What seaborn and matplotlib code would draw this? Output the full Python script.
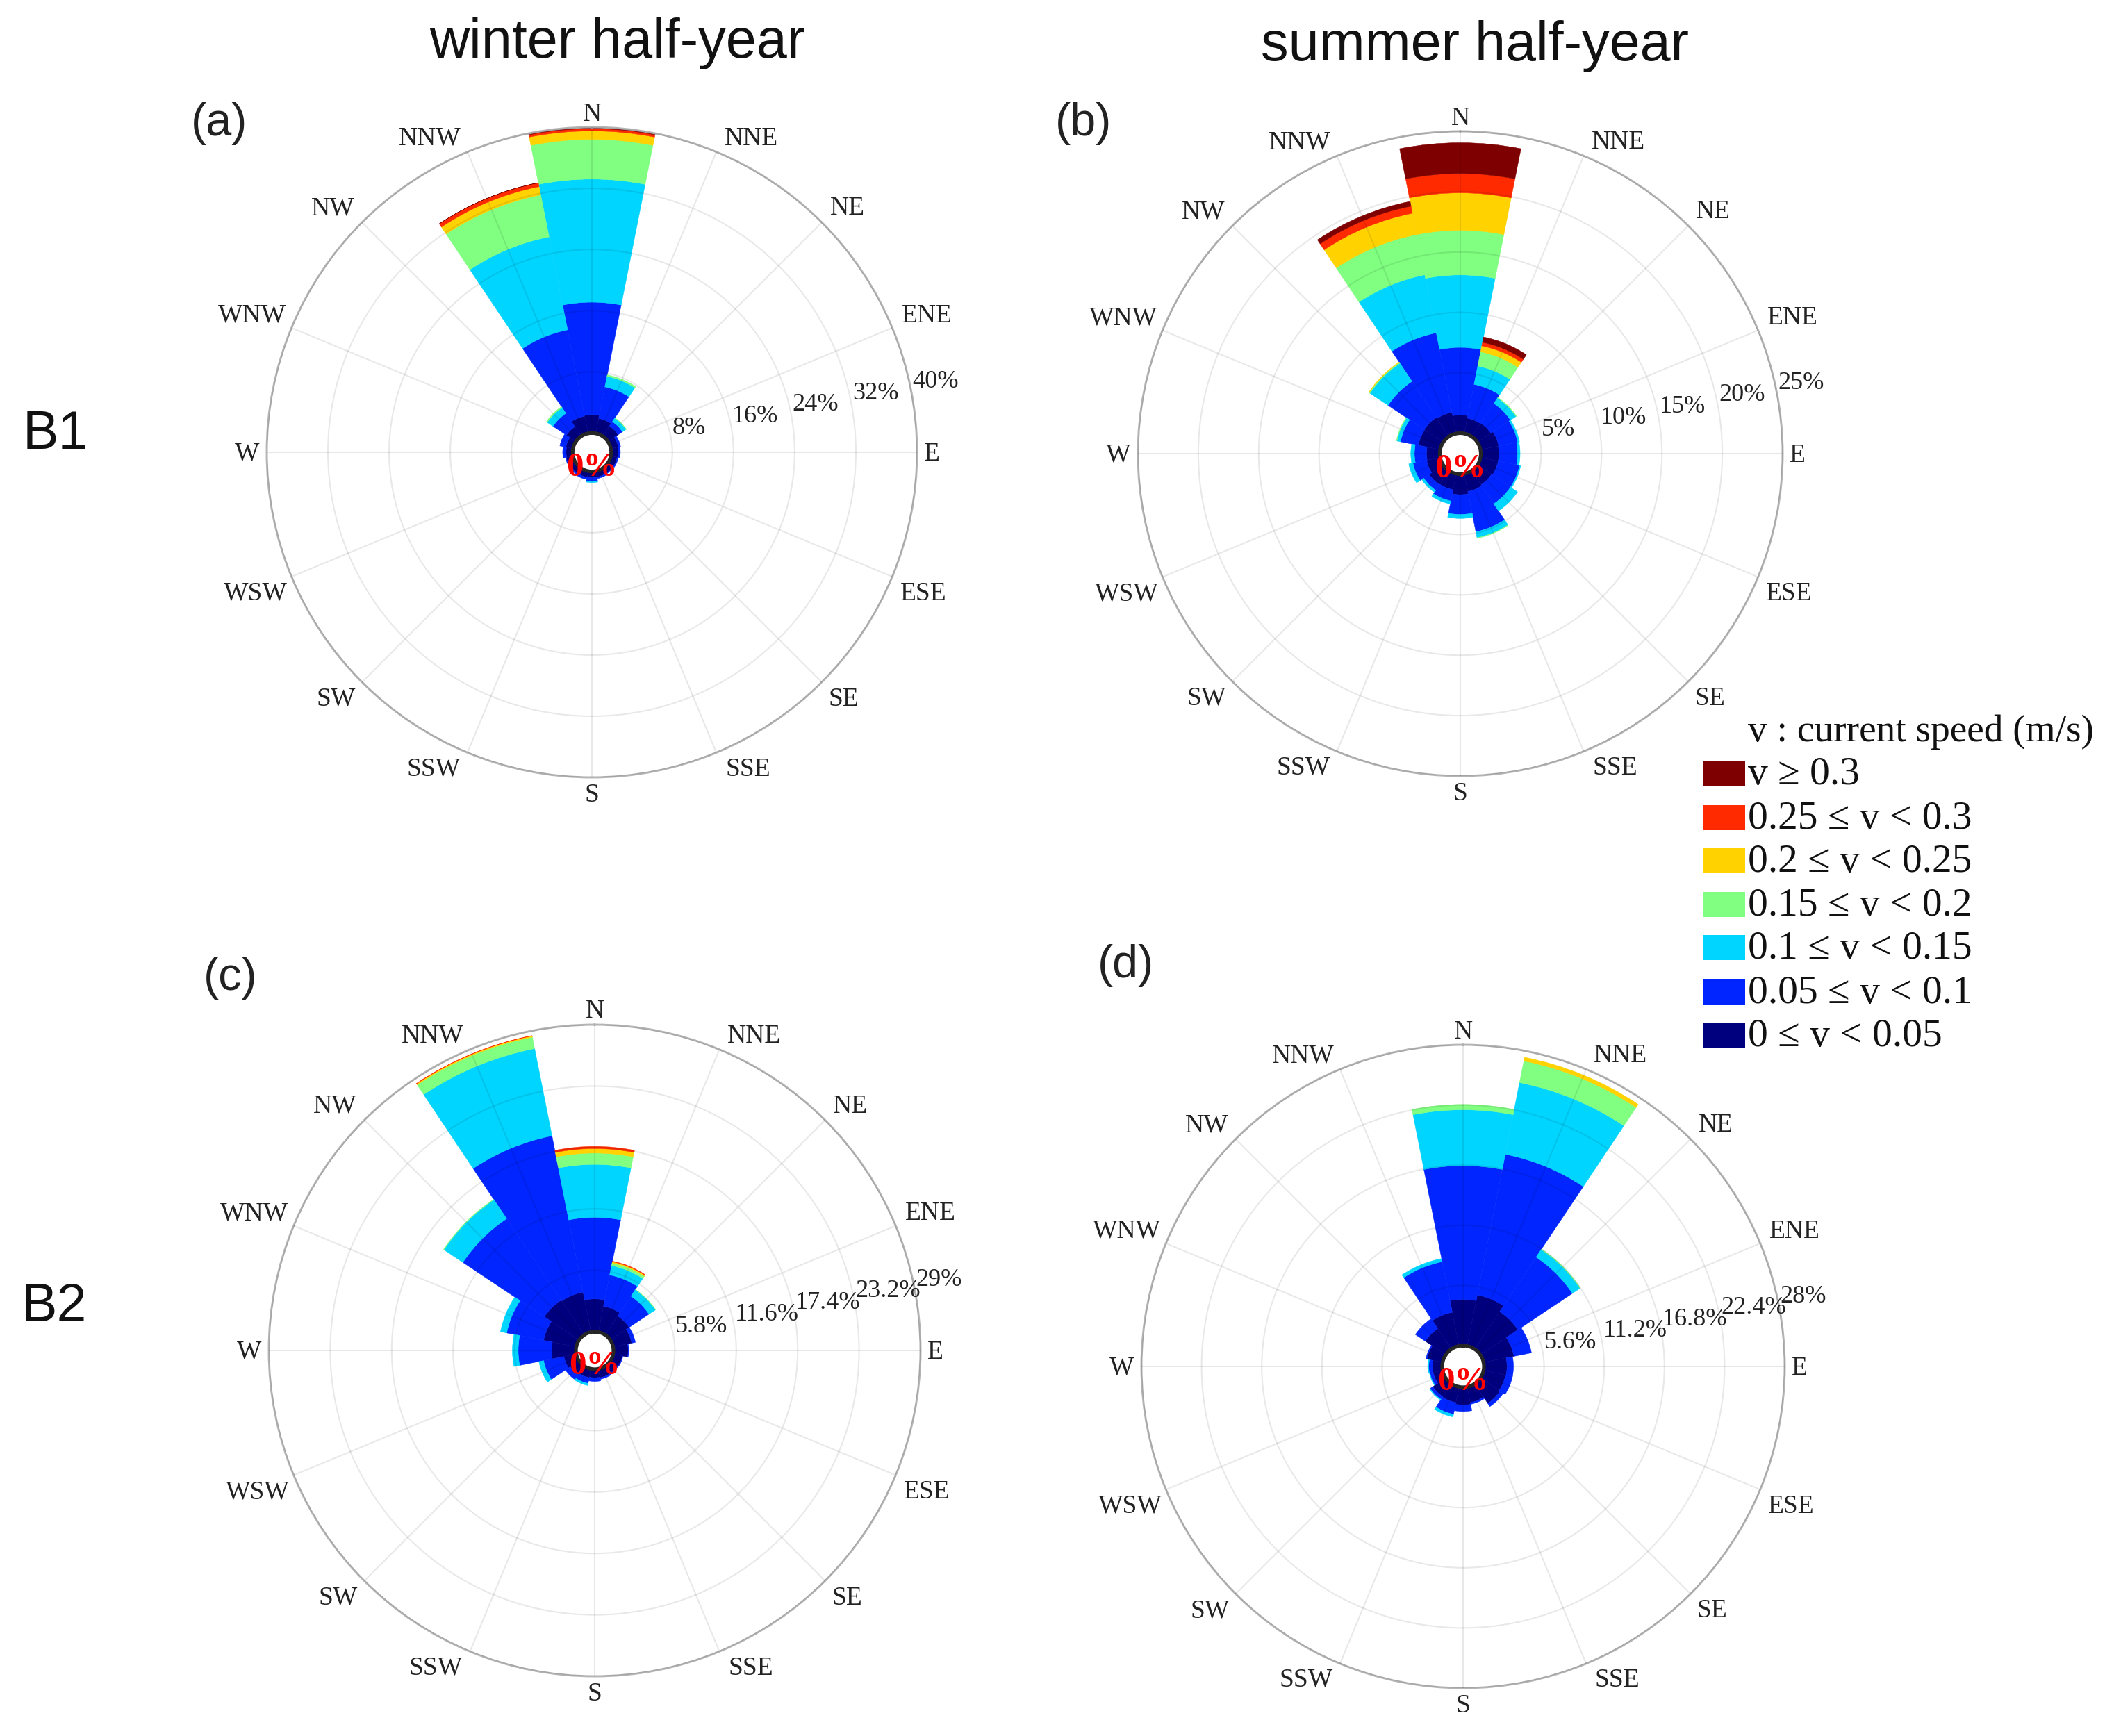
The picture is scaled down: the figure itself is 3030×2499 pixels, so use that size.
import numpy as np
import matplotlib
matplotlib.use("Agg")
import matplotlib.pyplot as plt
from matplotlib.patches import Rectangle
import seaborn as sns

W, H = 3030, 2499

directions = ["N", "NNE", "NE", "ENE", "E", "ESE", "SE", "SSE",
              "S", "SSW", "SW", "WSW", "W", "WNW", "NW", "NNW"]
speed_labels = ["0 \u2264 v < 0.05", "0.05 \u2264 v < 0.1", "0.1 \u2264 v < 0.15", "0.15 \u2264 v < 0.2",
                "0.2 \u2264 v < 0.25", "0.25 \u2264 v < 0.3", "v \u2265 0.3"]
speed_colors = ["#00007f", "#0025ff", "#00d5ff", "#80ff80", "#ffd200", "#ff2a00", "#7f0000"]

# percent per speed class (slow to fast), one row per direction
winter_b1 = [
    [2.4, 14.7, 16.1, 5.2, 1.1, 0.3, 0.2],
    [2.0, 4.2, 1.4, 0.2, 0, 0, 0],
    [1.6, 0.7, 0.55, 0.05, 0, 0, 0],
    [1.0, 0.3, 0, 0, 0, 0, 0],
    [0.9, 0.3, 0, 0, 0, 0, 0],
    [0.85, 0.15, 0, 0, 0, 0, 0],
    [0.8, 0.1, 0, 0, 0, 0, 0],
    [0.8, 0.2, 0, 0, 0, 0, 0],
    [0.8, 0.5, 0.15, 0, 0, 0, 0],
    [0.8, 0.3, 0, 0, 0, 0, 0],
    [0.8, 0.2, 0, 0, 0, 0, 0],
    [0.9, 0.1, 0, 0, 0, 0, 0],
    [0.85, 0.45, 0, 0, 0, 0, 0],
    [0.95, 0.8, 0, 0, 0, 0, 0],
    [1.5, 2.1, 0.9, 0.15, 0, 0, 0],
    [2.3, 11.5, 12.4, 5.6, 1.1, 0.5, 0.02],
]
summer_b1 = [
    [1.5, 5.6, 6.0, 3.7, 3.1, 1.6, 2.55],
    [1.3, 2.85, 1.55, 1.2, 0.5, 0.3, 0.45],
    [1.35, 1.95, 0.55, 0.05, 0, 0, 0],
    [1.55, 1.6, 0.15, 0, 0, 0, 0],
    [1.5, 1.55, 0.2, 0, 0, 0, 0],
    [1.5, 1.8, 0.1, 0, 0, 0, 0],
    [1.4, 1.9, 0.7, 0, 0, 0, 0],
    [1.5, 3.4, 0.5, 0.05, 0, 0, 0],
    [1.7, 1.64, 0.33, 0, 0, 0, 0],
    [1.35, 0.95, 0.25, 0, 0, 0, 0],
    [1.4, 0.55, 0.2, 0, 0, 0, 0],
    [1.15, 1.15, 0.35, 0, 0, 0, 0],
    [1.1, 1.0, 0.3, 0, 0, 0, 0],
    [1.85, 1.5, 0.3, 0.05, 0, 0, 0],
    [1.9, 3.6, 1.8, 0.08, 0.04, 0, 0],
    [1.8, 6.7, 4.9, 3.4, 1.8, 0.6, 0.4],
]
winter_b2 = [
    [3.1, 7.7, 5.0, 1.07, 0.43, 0.2, 0],
    [2.5, 3.0, 0.9, 0.25, 0.12, 0.06, 0],
    [2.15, 2.25, 0.73, 0.02, 0, 0, 0],
    [1.8, 0.35, 0, 0, 0, 0, 0],
    [1.4, 0.05, 0, 0, 0, 0, 0],
    [0.9, 0.05, 0, 0, 0, 0, 0],
    [0.85, 0.05, 0, 0, 0, 0, 0],
    [0.85, 0.15, 0, 0, 0, 0, 0],
    [0.8, 0.35, 0, 0, 0, 0, 0],
    [0.85, 0.55, 0.2, 0, 0, 0, 0],
    [1.0, 0.55, 0, 0, 0, 0, 0],
    [1.2, 1.95, 0.45, 0, 0, 0, 0],
    [2.3, 3.15, 0.55, 0, 0, 0, 0],
    [3.15, 3.55, 0.6, 0, 0, 0, 0],
    [3.95, 9.25, 2.15, 0.05, 0, 0, 0],
    [3.85, 15.05, 8.4, 1.1, 0.12, 0.03, 0],
]
summer_b2 = [
    [4.3, 12.45, 5.2, 0.5, 0, 0, 0],
    [4.85, 13.35, 6.8, 2.05, 0.35, 0, 0],
    [4.2, 6.1, 0.85, 0.05, 0, 0, 0],
    [2.9, 1.65, 0, 0, 0, 0, 0],
    [2.15, 0.6, 0, 0, 0, 0, 0],
    [2.1, 0.65, 0, 0, 0, 0, 0],
    [2.2, 0.35, 0, 0, 0, 0, 0],
    [1.5, 0.15, 0, 0, 0, 0, 0],
    [1.65, 0.6, 0, 0, 0, 0, 0],
    [1.5, 1.1, 0.25, 0, 0, 0, 0],
    [1.45, 0.3, 0.08, 0, 0, 0, 0],
    [0.9, 0.3, 0.05, 0, 0, 0, 0],
    [0.9, 0.35, 0.1, 0, 0, 0, 0],
    [1.5, 0.1, 0, 0, 0, 0, 0],
    [2.3, 1.1, 0, 0, 0, 0, 0],
    [3.2, 4.8, 0.3, 0, 0, 0, 0],
]

ticks_a = [8, 16, 24, 32, 40]
ticks_b = [5, 10, 15, 20, 25]
ticks_c = [5.8, 11.6, 17.4, 23.2, 29]
ticks_d = [5.6, 11.2, 16.8, 22.4, 28]
tick_names_a = ["8%", "16%", "24%", "32%", "40%"]
tick_names_b = ["5%", "10%", "15%", "20%", "25%"]
tick_names_c = ["5.8%", "11.6%", "17.4%", "23.2%", "29%"]
tick_names_d = ["5.6%", "11.2%", "16.8%", "22.4%", "28%"]

sns.set_theme(style="white")
plt.rcParams["font.family"] = ["Liberation Serif", "DejaVu Serif"]
palette = sns.color_palette(speed_colors)

fig = plt.figure(figsize=(W / 300, H / 300), dpi=300)

# label offsets from the centre, as a share of the radius (N to S on the east side)
label_east = [(0, 1.04), (0.49, 0.965), (0.785, 0.75), (1.03, 0.42), (1.045, -0.005),
              (1.02, -0.435), (0.775, -0.76), (0.48, -0.975), (0, -1.055)]
label_spots = label_east + [(-x * 1.015, y) for x, y in label_east[-2:0:-1]]


def rose(table, ticks, names, hole, cx, cy, R, tag, tag_xy):
    ax = fig.add_axes([(cx - R) / W, 1 - (cy + R) / H, 2 * R / W, 2 * R / H], projection="polar")
    ax.set_theta_zero_location("N")
    ax.set_theta_direction(-1)
    ax.set_facecolor("none")

    table = np.array(table)
    theta = np.deg2rad(np.arange(16) * 22.5)
    bottom = np.zeros(16)
    for i in range(7):
        # thin same-colour edge closes the seams, so empty classes must be left out
        on = table[:, i] > 0
        ax.bar(theta[on], table[on, i], width=np.deg2rad(22.5), bottom=bottom[on],
               color=palette[i], edgecolor=palette[i], linewidth=0.12)
        bottom += table[:, i]

    ax.set_ylim(0, ticks[-1])
    ax.set_rorigin(-hole)
    ax.set_xticks(theta)
    ax.set_xticklabels([])
    ax.set_yticks(ticks)
    ax.set_yticklabels([])
    ax.set_axisbelow(False)
    ax.grid(True, color="black", alpha=0.09, linewidth=0.5)
    ax.spines["polar"].set_color("#b4b4b4")
    ax.spines["polar"].set_linewidth(0.7)
    ax.spines["inner"].set_visible(False)

    for name, (x, y) in zip(directions, label_spots):
        ax.text(0.5 + x / 2, 0.5 + y / 2, name, transform=ax.transAxes,
                ha="center", va="center", fontsize=9, color="#222222")
    for t, name in zip(ticks, names):
        ax.annotate(name, xy=(np.deg2rad(79), t), xytext=(0.5, 3.0), textcoords="offset points",
                    ha="left", va="center", fontsize=8.7, color="#222222", annotation_clip=False)
    ax.annotate("0%", xy=(0.5, 0.5), xycoords="axes fraction", xytext=(0, -5.2), textcoords="offset points",
                ha="center", va="center", fontsize=11.8, fontweight="bold", color="#ff0000")
    fig.text(tag_xy[0] / W, 1 - tag_xy[1] / H, tag, family="Liberation Sans", fontsize=16,
             ha="center", va="center", color="#222222")


rose(winter_b1, ticks_a, tick_names_a, 2.52, 852, 651, 468, "(a)", (316, 178))
rose(summer_b1, ticks_b, tick_names_b, 1.7, 2102, 653, 464, "(b)", (1560, 178))
rose(winter_b2, ticks_c, tick_names_c, 1.77, 856, 1944, 469, "(c)", (332, 1408))
rose(summer_b2, ticks_d, tick_names_d, 1.94, 2106, 1967, 463, "(d)", (1620, 1390))

sans = dict(family="Liberation Sans", ha="center", va="center", color="#111111")
fig.text(889 / W, 1 - 62 / H, "winter half-year", fontsize=19, **sans)
fig.text(2123 / W, 1 - 66 / H, "summer half-year", fontsize=19, **sans)
fig.text(80 / W, 1 - 626 / H, "B1", fontsize=18.5, **sans)
fig.text(78 / W, 1 - 1882 / H, "B2", fontsize=18.5, **sans)

# legend
fig.text(2516 / W, 1 - 1054 / H, "v : current speed (m/s)", fontsize=13.3,
         ha="left", va="center", color="#111111")
rows = [1113, 1177, 1239, 1302, 1364, 1428, 1490]
for y, label, color in zip(rows, speed_labels[::-1], palette[::-1]):
    fig.add_artist(Rectangle((2452 / W, 1 - (y + 18) / H), 60 / W, 36 / H, color=color,
                             linewidth=0, transform=fig.transFigure))
    fig.text(2516 / W, 1 - (y + 2) / H, label, fontsize=13.8, ha="left", va="center", color="#111111")

fig.savefig("out.png", dpi=300)
plt.close(fig)
